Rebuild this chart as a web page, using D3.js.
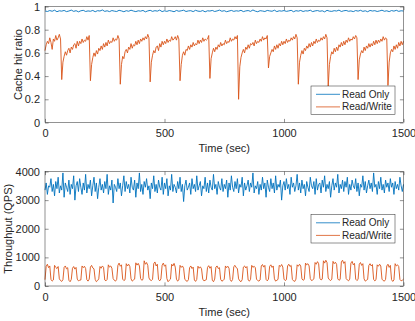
<!DOCTYPE html>
<html>
<head>
<meta charset="utf-8">
<script src="https://cdn.jsdelivr.net/npm/d3@7"></script>
<style>
body { margin: 0; background: #fff; }
svg { display: block; font-family: "Liberation Sans", Arial, Helvetica, sans-serif; }
</style>
</head>
<body>
<script>
// data, samples evenly spread over 0..1500 sec
const timeTicks = [0, 500, 1000, 1500];
const hitTicks = [0, 0.2, 0.4, 0.6, 0.8, 1];
const qpsTicks = [0, 1000, 2000, 3000, 4000];
const seriesNames = ["Read Only", "Read/Write"];

// cache hit ratio, read only (every 10 s)
const hitReadOnly = [
    0.962,0.957,0.965,0.959,0.968,0.955,0.963,0.960,0.966,0.956,
    0.961,0.969,0.958,0.964,0.954,0.963,0.967,0.957,0.962,0.959,
    0.966,0.955,0.964,0.961,0.970,0.958,0.963,0.956,0.965,0.960,
    0.957,0.967,0.962,0.955,0.964,0.959,0.968,0.961,0.956,0.963,
    0.960,0.966,0.954,0.962,0.967,0.958,0.964,0.960,0.969,0.956,
    0.963,0.958,0.965,0.961,0.955,0.966,0.959,0.963,0.968,0.957,
    0.962,0.964,0.956,0.967,0.960,0.958,0.965,0.954,0.963,0.961,
    0.966,0.957,0.962,0.969,0.959,0.964,0.955,0.961,0.966,0.958,
    0.963,0.960,0.967,0.956,0.962,0.965,0.958,0.970,0.960,0.955,
    0.964,0.961,0.957,0.966,0.962,0.959,0.968,0.956,0.963,0.960,
    0.965,0.958,0.962,0.967,0.955,0.964,0.960,0.966,0.957,0.963,
    0.961,0.968,0.956,0.962,0.965,0.959,0.963,0.954,0.967,0.960,
    0.958,0.964,0.961,0.969,0.957,0.963,0.966,0.959,0.962,0.956,
    0.965,0.960,0.967,0.958,0.963,0.955,0.966,0.961,0.964,0.957,
    0.962,0.968,0.959,0.963,0.956,0.965,0.960,0.967,0.958,0.963,
    0.961
];

// cache hit ratio, read/write (every 5 s)
const hitReadWrite = [
    0.62,0.67,0.70,0.68,0.73,0.69,0.63,0.72,0.70,0.75,
    0.71,0.73,0.76,0.72,0.37,0.52,0.57,0.61,0.58,0.62,
    0.64,0.60,0.65,0.63,0.67,0.68,0.64,0.70,0.66,0.70,
    0.68,0.72,0.69,0.71,0.70,0.74,0.71,0.75,0.36,0.50,
    0.56,0.60,0.57,0.62,0.59,0.64,0.62,0.66,0.63,0.68,
    0.65,0.69,0.66,0.71,0.68,0.70,0.69,0.73,0.70,0.72,
    0.71,0.75,0.72,0.33,0.50,0.57,0.55,0.61,0.63,0.60,
    0.65,0.63,0.68,0.64,0.67,0.66,0.70,0.67,0.71,0.68,
    0.72,0.70,0.73,0.71,0.74,0.72,0.76,0.73,0.35,0.52,
    0.58,0.62,0.60,0.65,0.66,0.62,0.68,0.65,0.70,0.67,
    0.70,0.68,0.72,0.69,0.71,0.70,0.74,0.71,0.72,0.74,
    0.71,0.75,0.72,0.36,0.50,0.58,0.61,0.58,0.63,0.62,
    0.66,0.63,0.67,0.65,0.69,0.66,0.68,0.67,0.71,0.68,
    0.71,0.69,0.73,0.70,0.72,0.71,0.72,0.75,0.38,0.55,
    0.60,0.64,0.61,0.65,0.63,0.67,0.65,0.69,0.66,0.68,
    0.67,0.71,0.68,0.70,0.69,0.73,0.70,0.72,0.71,0.74,
    0.72,0.75,0.20,0.48,0.56,0.60,0.63,0.60,0.65,0.63,
    0.67,0.64,0.68,0.67,0.69,0.66,0.71,0.68,0.70,0.69,
    0.72,0.70,0.74,0.71,0.73,0.72,0.75,0.47,0.57,0.60,
    0.63,0.61,0.66,0.63,0.67,0.64,0.68,0.66,0.70,0.67,
    0.70,0.68,0.72,0.69,0.71,0.70,0.73,0.71,0.74,0.72,
    0.76,0.73,0.33,0.52,0.58,0.62,0.59,0.64,0.62,0.66,
    0.64,0.68,0.65,0.69,0.66,0.70,0.68,0.72,0.69,0.71,
    0.70,0.73,0.71,0.74,0.72,0.76,0.73,0.31,0.50,0.57,
    0.61,0.59,0.64,0.61,0.65,0.62,0.67,0.65,0.69,0.66,
    0.70,0.67,0.71,0.69,0.73,0.70,0.72,0.71,0.74,0.72,
    0.75,0.73,0.37,0.54,0.59,0.62,0.60,0.65,0.62,0.66,
    0.64,0.68,0.65,0.68,0.66,0.70,0.67,0.71,0.68,0.71,
    0.69,0.72,0.70,0.74,0.71,0.73,0.72,0.32,0.52,0.60,
    0.63,0.61,0.66,0.63,0.67,0.64,0.69,0.66,0.70,0.67,
    0.70
];

// throughput, read only (every 5 s)
const qpsReadOnly = [
    3350,3600,3200,3500,3450,3750,3300,3550,3150,3650,
    3400,3800,3250,3500,3350,3950,3100,3600,3450,3300,
    3700,3200,3550,3400,3850,3000,3500,3650,3300,3750,
    3450,3200,3600,3350,3900,3250,3550,3400,3700,3150,
    3500,3800,3300,3600,3050,3450,3750,3350,3550,3250,
    3650,3400,3900,3200,3500,3350,3700,2900,3550,3450,
    3300,3750,3400,3600,3150,3500,3850,3300,3650,3400,
    3550,3250,3800,3450,3350,3700,3100,3600,3400,3950,
    3300,3550,3200,3650,3450,3750,3350,3500,3050,3600,
    3400,3850,3300,3550,3250,3700,3450,3350,3800,3200,
    3600,3400,3750,3150,3500,3350,3900,3300,3550,3450,
    3250,3650,3400,3800,3300,3550,2950,3500,3700,3350,
    3450,3600,3200,3750,3400,3550,3300,3850,3350,3500,
    3650,3150,3500,3400,3800,3300,3600,3250,3700,3450,
    3350,3900,3400,3550,3200,3650,3450,3350,3750,3300,
    3550,3400,3700,3100,3600,3350,3850,3450,3300,3650,
    3400,3750,3250,3550,3450,3800,3150,3600,3350,3500,
    3700,3300,3600,3450,3950,3250,3500,3400,3650,3200,
    3550,3350,3800,3400,3600,3100,3700,3450,3300,3750,
    3400,3600,3250,3850,3350,3550,3450,3700,3000,3500,
    3650,3350,3750,3400,3550,3200,3800,3450,3600,3300,
    3500,3900,3350,3600,3250,3700,3400,3550,3150,3650,
    3450,3300,3800,3500,3400,3650,3200,3750,3350,3550,
    3600,3250,3700,3450,3850,3300,3550,3400,3650,3100,
    3500,3750,3350,3600,3450,3900,3250,3550,3400,3700,
    3300,3650,3450,3800,3200,3550,3350,3700,3500,3400,
    3750,3300,3600,3150,3550,3450,3850,3350,3650,3250,
    3500,3700,3400,3600,3300,3950,3450,3550,3200,3650,
    3400,3800,3350,3550,3250,3700,3450,3600,3300,3750,
    3450,3600,3200,3650,3400,3550,3350,3800,3500,3300,
    3550
];

// throughput, read/write (every 5 s)
const qpsReadWrite = [
    220,
    690,760,640,700,230,170,210, 720,650,610,680,250,190,160,220,
    650,700,600,640,200,150,230, 620,680,590,650,240,180,200,210,
    700,640,690,610,220,170,240, 660,720,630,600,230,150,190,250,
    680,620,700,650,210,180,230, 740,660,700,620,260,200,170,230,
    720,800,690,740,240,190,220, 780,700,760,680,250,170,210,240,
    810,730,790,700,260,200,230, 880,760,820,720,280,210,190,230,
    780,840,700,760,230,180,250, 720,800,690,740,260,150,200,240,
    760,700,790,660,240,170,210, 720,650,700,620,230,190,160,220,
    640,700,610,660,210,160,230, 690,620,670,600,240,180,200,220,
    650,710,620,680,200,150,240, 660,700,610,640,230,170,190,240,
    700,640,690,620,220,160,230, 680,720,640,610,250,180,150,220,
    660,700,630,680,210,170,230, 720,650,690,640,240,190,170,210,
    700,750,660,720,230,180,240, 690,740,650,700,250,170,200,230,
    720,680,750,660,240,190,220, 700,760,680,720,230,180,160,240,
    740,690,760,700,250,200,230, 800,740,780,700,260,190,210,250,
    820,760,850,780,270,210,240, 880,800,900,820,280,220,190,240,
    860,780,830,760,250,200,230, 840,900,790,850,260,210,180,240,
    800,860,740,790,240,190,230, 760,820,720,780,250,170,200,230,
    720,780,700,750,230,180,220, 740,690,760,700,240,190,170,230,
    700,760,650,720,220,160,210, 780,700,740,680,230,180,200,240
];

const colors = ["#0072BD", "#D95319"];
const axisColor = "#262626";
const width = 415, height = 321;
const margin = { left: 45, right: 403.5 };
const tickLen = 3.6;

const svg = d3.select("body").append("svg")
    .attr("width", width)
    .attr("height", height);

const x = d3.scaleLinear().domain([0, 1500]).range([margin.left, margin.right]);

const panels = [
    { top: 6.5, bottom: 122.5, domain: [0, 1], ticks: hitTicks, label: "Cache hit ratio",
      labelX: 18, series: [hitReadOnly, hitReadWrite], legendTop: 86 },
    { top: 171.5, bottom: 286, domain: [0, 4000], ticks: qpsTicks, label: "Throughput (QPS)",
      labelX: 8, series: [qpsReadOnly, qpsReadWrite], legendTop: 214.5 }
];

function styleAxis(g) {
    g.select(".domain").remove();
    g.selectAll("line").attr("stroke", axisColor).attr("stroke-width", 0.5);
    g.selectAll("text").attr("fill", axisColor).attr("font-size", 11).attr("font-family", null);
}

panels.forEach(p => {
    const y = d3.scaleLinear().domain(p.domain).range([p.bottom, p.top]);
    const g = svg.append("g");

    // lines
    p.series.forEach((vals, k) => {
        const step = 1500 / (vals.length - 1);
        const line = d3.line()
            .x((d, i) => x(i * step))
            .y(d => y(d));
        g.append("path")
            .datum(vals)
            .attr("d", line)
            .attr("fill", "none")
            .attr("stroke", colors[k])
            .attr("stroke-width", 0.9)
            .attr("stroke-linejoin", "round");
    });

    // axes, ticks pointing inward like matlab
    g.append("g")
        .attr("transform", `translate(0,${p.bottom})`)
        .call(d3.axisBottom(x).tickValues(timeTicks).tickFormat(d3.format("d")).tickSize(-tickLen).tickPadding(7))
        .call(styleAxis);
    g.append("g")
        .attr("transform", `translate(0,${p.top})`)
        .call(d3.axisTop(x).tickValues(timeTicks).tickFormat("").tickSize(-tickLen))
        .call(styleAxis);
    g.append("g")
        .attr("transform", `translate(${margin.left},0)`)
        .call(d3.axisLeft(y).tickValues(p.ticks).tickFormat(d => String(d)).tickSize(-tickLen).tickPadding(5))
        .call(styleAxis);
    g.append("g")
        .attr("transform", `translate(${margin.right},0)`)
        .call(d3.axisRight(y).tickValues(p.ticks).tickFormat("").tickSize(-tickLen))
        .call(styleAxis);

    g.append("rect")
        .attr("x", margin.left)
        .attr("y", p.top)
        .attr("width", margin.right - margin.left)
        .attr("height", p.bottom - p.top)
        .attr("fill", "none")
        .attr("stroke", axisColor)
        .attr("stroke-width", 0.5);

    // labels
    g.append("text")
        .attr("x", (margin.left + margin.right) / 2)
        .attr("y", p.bottom + 26)
        .attr("dy", "0.35em")
        .attr("text-anchor", "middle")
        .attr("font-size", 11)
        .attr("fill", axisColor)
        .text("Time (sec)");
    g.append("text")
        .attr("transform", `translate(${p.labelX},${(p.top + p.bottom) / 2}) rotate(-90)`)
        .attr("dy", "0.35em")
        .attr("text-anchor", "middle")
        .attr("font-size", 11)
        .attr("fill", axisColor)
        .text(p.label);

    // legend
    const lg = g.append("g").attr("transform", `translate(311,${p.legendTop})`);
    lg.append("rect")
        .attr("width", 84)
        .attr("height", 28.5)
        .attr("fill", "#fff")
        .attr("stroke", axisColor)
        .attr("stroke-width", 0.5);
    seriesNames.forEach((name, k) => {
        const ly = 8.3 + k * 12.6;
        lg.append("line")
            .attr("x1", 5).attr("x2", 29)
            .attr("y1", ly).attr("y2", ly)
            .attr("stroke", colors[k])
            .attr("stroke-width", 0.8);
        lg.append("text")
            .attr("x", 31)
            .attr("y", ly)
            .attr("dy", "0.35em")
            .attr("font-size", 10)
            .attr("fill", axisColor)
            .text(name);
    });
});
</script>
</body>
</html>
